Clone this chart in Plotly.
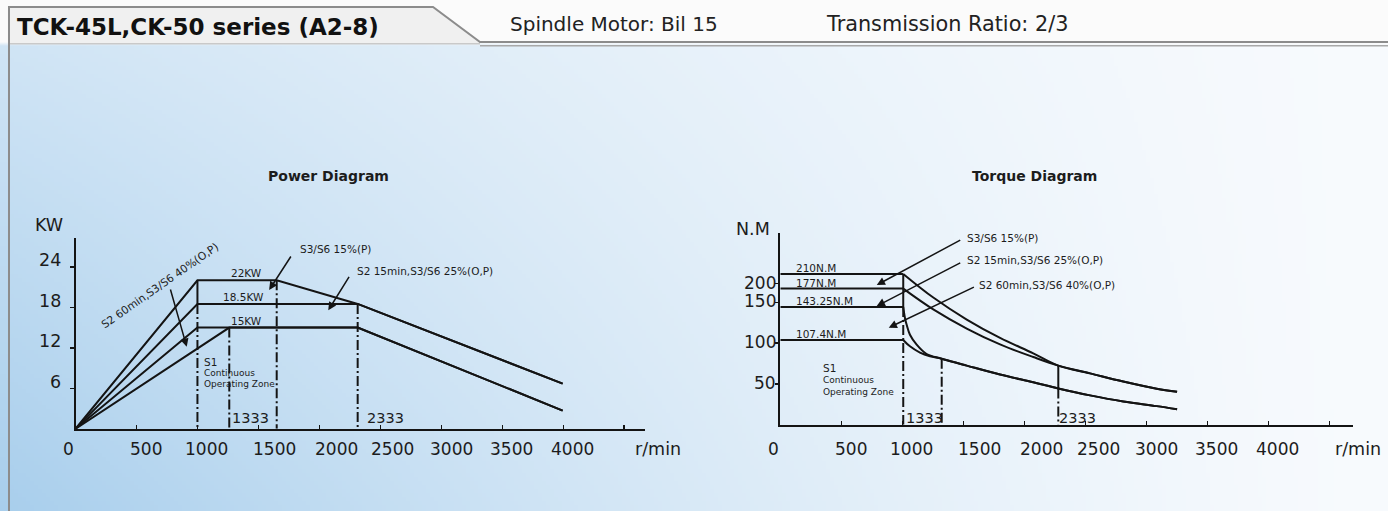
import base64, struct, zlib
import numpy as np
import plotly.graph_objects as go

W, H = 1388, 511

# ---------------- data ----------------
x_tick_vals = [0, 500, 1000, 1500, 2000, 2500, 3000, 3500, 4000, 4500]
x_tick_labels = ["0", "500", "1000", "1500", "2000", "2500", "3000", "3500", "4000"]

p_y_ticks = [6, 12, 18, 24]
p_y_labels = ["6", "12", "18", "24"]

# power curves (rpm, kW)
p_s3_15_rpm = [0, 1000, 1650, 2314, 3995]
p_s3_15_kw = [0, 22, 22, 18.5, 6.7]
p_s2_15_rpm = [0, 1000, 2314, 3995]
p_s2_15_kw = [0, 18.5, 18.5, 6.7]
p_s2_60_rpm = [0, 1000, 2314, 3995]
p_s2_60_kw = [0, 15, 15, 2.7]
p_s1_rpm = [0, 1261, 2314, 3995]
p_s1_kw = [0, 15, 15, 2.7]
# drop lines: (rpm, top, bottom)
p_solid_drop_rpm = [1000]
p_solid_drop_top = [22]
p_solid_drop_bot = [18.5]
p_dash_drop_rpm = [1000, 1261, 1650, 2314]
p_dash_drop_top = [18.5, 15, 22, 18.5]

t_y_ticks = [50, 100, 150, 173]
t_y_labels = ["50", "100", "150", "200"]

# torque curves (rpm, N.M as drawn)
t_s3_15_rpm = [0, 1007, 1253, 1527, 1800, 2072, 2277, 2537, 2809, 3083, 3250]
t_s3_15_nm = [185, 185, 156, 129, 106.5, 87.5, 72.5, 63, 53, 44.2, 40.5]
t_s2_15_rpm = [0, 1007, 1253, 1527, 1800, 2072, 2277, 2537, 2809, 3083, 3250]
t_s2_15_nm = [167, 167, 141.5, 118, 98.5, 83, 72.5, 63, 53, 44.2, 40.5]
t_s2_60_rpm = [0, 1007, 1021, 1035, 1062, 1117, 1199, 1322, 1527, 1800, 2072, 2277, 2537, 2809, 3083, 3250]
t_s2_60_nm = [144.5, 144.5, 131, 122.7, 110.4, 98.2, 86.7, 81, 72.5, 61.5, 52, 44.5, 36, 28.5, 22.8, 19]
t_s1_rpm = [0, 1007, 1062, 1144, 1226, 1322, 1527, 1800, 2072, 2277, 2537, 2809, 3083, 3250]
t_s1_nm = [104, 104, 96.2, 88.5, 84, 81, 72.5, 61.5, 52, 44.5, 36, 28.5, 22.8, 19]
t_solid_drop_rpm = [1007, 2277]
t_solid_drop_top = [185, 72.5]
t_solid_drop_bot = [144.5, 44.5]
t_dash_drop_rpm = [1007, 1322, 2277]
t_dash_drop_top = [144.5, 81, 44.5]

INK = "#141414"
FONT = "DejaVu Sans"
DASHDOT = "10px,3px,2px,3px"


def fx(px):
    return px / W


def fy(py):
    return 1 - py / H


# ---------------- background gradient image ----------------
gw, gh = 347, 128
xs = (np.arange(gw) + 0.5) / gw
ys = (np.arange(gh) + 0.5) / gh * H
U, Y = np.meshgrid(xs, ys)
vv = np.clip((Y - 45) / (H - 45), 0, 1)
t = np.clip(1 - U / 0.98, 0, 1) ** 1.3 * (0.5 + 0.5 * vv)
blue = np.array([168, 206, 236], dtype=float)
white = np.array([247, 250, 253], dtype=float)
img = white * (1 - t[..., None]) + blue * t[..., None]
img[Y < 44] = [251, 251, 251]
img = np.clip(img.round(), 0, 255).astype(np.uint8)
raw = b"".join(b"\x00" + img[r].tobytes() for r in range(gh))


def _chunk(tag, data):
    c = struct.pack(">I", len(data)) + tag + data
    return c + struct.pack(">I", zlib.crc32(tag + data) & 0xFFFFFFFF)


png = (b"\x89PNG\r\n\x1a\n" + _chunk(b"IHDR", struct.pack(">IIBBBBB", gw, gh, 8, 2, 0, 0, 0))
       + _chunk(b"IDAT", zlib.compress(raw, 9)) + _chunk(b"IEND", b""))
bg_uri = "data:image/png;base64," + base64.b64encode(png).decode()

fig = go.Figure()


def line(x, y, xa, ya, dash="solid", shape="linear", width=2):
    fig.add_trace(go.Scatter(x=x, y=y, mode="lines", xaxis=xa, yaxis=ya,
                             line=dict(color=INK, width=width, dash=dash, shape=shape,
                                       smoothing=1.0),
                             hoverinfo="skip", showlegend=False))


# power
for rx, ry in [(p_s3_15_rpm, p_s3_15_kw), (p_s2_15_rpm, p_s2_15_kw),
               (p_s2_60_rpm, p_s2_60_kw), (p_s1_rpm, p_s1_kw)]:
    line(rx, ry, "x", "y")
for r, a, b in zip(p_solid_drop_rpm, p_solid_drop_top, p_solid_drop_bot):
    line([r, r], [a, b], "x", "y")
for r, a in zip(p_dash_drop_rpm, p_dash_drop_top):
    line([r, r], [a, 0], "x", "y", dash=DASHDOT)

# torque: flat part linear, curve part spline
for rx, ry in [(t_s3_15_rpm, t_s3_15_nm), (t_s2_15_rpm, t_s2_15_nm),
               (t_s2_60_rpm, t_s2_60_nm), (t_s1_rpm, t_s1_nm)]:
    line(rx[:2], ry[:2], "x2", "y2")
    line(rx[1:], ry[1:], "x2", "y2", shape="spline")
for r, a, b in zip(t_solid_drop_rpm, t_solid_drop_top, t_solid_drop_bot):
    line([r, r], [a, b], "x2", "y2")
for r, a in zip(t_dash_drop_rpm, t_dash_drop_top):
    line([r, r], [a, 0], "x2", "y2", dash=DASHDOT)

# ---------------- axes ----------------
p_sx, p_x0 = 0.12194, 75.5
p_sy, p_y0 = 6.75, 428.8
t_sx, t_x0 = 0.12209, 780.3
t_sy, t_y0 = 0.815, 424.7

axis_common = dict(showgrid=False, zeroline=False, showline=True, linecolor=INK,
                   linewidth=2, tickcolor=INK, tickwidth=1.5, showticklabels=False,
                   fixedrange=True)

fig.update_layout(
    xaxis=dict(domain=[fx(p_x0), fx(645)], range=[0, (645 - p_x0) / p_sx], anchor="y",
               tickvals=x_tick_vals, ticks="inside", ticklen=4, **axis_common),
    yaxis=dict(domain=[fy(p_y0), fy(237.7)], range=[0, (p_y0 - 237.7) / p_sy], anchor="x",
               tickvals=p_y_ticks, ticks="outside", ticklen=4, **axis_common),
    xaxis2=dict(domain=[fx(t_x0), fx(1352.5)], range=[0, (1352.5 - t_x0) / t_sx], anchor="y2",
                tickvals=x_tick_vals, ticks="inside", ticklen=4, **axis_common),
    yaxis2=dict(domain=[fy(t_y0), fy(233)], range=[0, (t_y0 - 233) / t_sy], anchor="x2",
                tickvals=t_y_ticks, ticks="outside", ticklen=3, **axis_common),
)

ann = []


def text(s, x, y, size, xref="paper", yref="paper", xanchor="center", yanchor="middle",
         bold=False, family=FONT, xshift=0, yshift=0, angle=0, color="#1c1c1c"):
    ann.append(dict(text=("<b>%s</b>" % s) if bold else s, x=x, y=y, xref=xref, yref=yref,
                    xanchor=xanchor, yanchor=yanchor, showarrow=False, xshift=xshift,
                    yshift=yshift, textangle=angle,
                    font=dict(family=family, size=size, color=color)))


def arrow(x, y, ax, ay, xref, yref):
    ann.append(dict(text="", x=x, y=y, xref=xref, yref=yref, ax=ax, ay=ay, showarrow=True,
                    arrowhead=2, arrowsize=1.1, arrowwidth=1.5, arrowcolor=INK))


# tick labels
label_offsets = [-7, 9.5, 9, 16.5, 17.5, 12.5, 10, 9, 9]
for v, s, o in zip(x_tick_vals, x_tick_labels, label_offsets):
    text(s, v, fy(449), 17, xref="x", xshift=o)
    text(s, v, fy(449), 17, xref="x2", xshift=o)
text("r/min", fx(658), fy(449), 17.5)
text("r/min", fx(1358), fy(449), 17.5)
for v, s in zip(p_y_ticks, p_y_labels):
    text(s, fx(63), v, 17.5, yref="y", xanchor="right", yshift=6.7)
for v, s in zip(t_y_ticks, t_y_labels):
    text(s, fx(777.5), v, 17, yref="y2", xanchor="right", yshift=1)
text("KW", fx(49), fy(225), 17.5)
text("N.M", fx(753), fy(229), 17.5)

# titles
text("Power Diagram", fx(328), fy(176), 14, bold=True)
text("Torque Diagram", fx(1034), fy(176), 14, bold=True)

# power annotations
for lab, r, v in [("22KW", 1400, 22), ("18.5KW", 1374, 18.5), ("15KW", 1404, 15)]:
    text(lab, r, v, 10.5, xref="x", yref="y", yanchor="bottom", yshift=-1)
text("S1", 1040, 9.94, 10.5, xref="x", yref="y", xanchor="left")
text("Continuous", 1040, 8.27, 9, xref="x", yref="y", xanchor="left")
text("Operating Zone", 1040, 6.68, 9, xref="x", yref="y", xanchor="left")
text("1333", 1270, 1.6, 14.5, xref="x", yref="y", xanchor="left")
text("2333", 2370, 1.6, 14.5, xref="x", yref="y", xanchor="left")
text("S2 60min,S3/S6 40%(O,P)", 697, 21.2, 10.8, xref="x", yref="y", angle=-35)
text("S3/S6 15%(P)", 1822, 26.6, 10.5, xref="x", yref="y", xanchor="left")
text("S2 15min,S3/S6 25%(O,P)", 2294, 23.4, 10.5, xref="x", yref="y", xanchor="left")
arrow(912, 12.16, -16.7, -58.7, "x", "y")
arrow(1588, 20.56, 22.7, -35, "x", "y")
arrow(2073, 17.55, 21.7, -35, "x", "y")

# torque annotations
for lab, v in [("210N.M", 185), ("177N.M", 167), ("143.25N.M", 144.5), ("107.4N.M", 104)]:
    text(lab, 110, v, 10.5, xref="x2", yref="y2", xanchor="left", yanchor="bottom", yshift=-2)
text("S1", 330, 69.1, 10.5, xref="x2", yref="y2", xanchor="left")
text("Continuous", 330, 54.8, 9, xref="x2", yref="y2", xanchor="left")
text("Operating Zone", 330, 39.8, 9, xref="x2", yref="y2", xanchor="left")
text("1333", 1010, 8.8, 14.5, xref="x2", yref="y2", xanchor="left")
text("2333", 2266, 8.8, 14.5, xref="x2", yref="y2", xanchor="left")
text("S3/S6 15%(P)", 1515, 229.4, 10.5, xref="x2", yref="y2", xanchor="left")
text("S2 15min,S3/S6 25%(O,P)", 1515, 202, 10.5, xref="x2", yref="y2", xanchor="left")
text("S2 60min,S3/S6 40%(O,P)", 1610, 171.4, 10.5, xref="x2", yref="y2", xanchor="left")
arrow(790, 171.4, 85, -45.7, "x2", "y2")
arrow(790, 145.6, 85, -44, "x2", "y2")
arrow(888, 119, 86.7, -41.3, "x2", "y2")

# header texts
text("TCK-45L,CK-50 series (A2-8)", fx(15), fy(27), 23, xanchor="left", bold=True, color="#111")
text("Spindle Motor: Bil 15", fx(508), fy(23.5), 20, xanchor="left", color="#222")
text("Transmission Ratio: 2/3", fx(824), fy(23.5), 20.8, xanchor="left", color="#222")


def path(pts, close=False):
    s = "M " + " L ".join("%.5f,%.5f" % (fx(a), fy(b)) for a, b in pts)
    return s + (" Z" if close else "")


shapes = [
    dict(type="path", xref="paper", yref="paper", layer="above",
         path=path([(9, 7), (433, 7), (480, 43), (9, 43)], close=True),
         fillcolor="#f0f0f0", line=dict(width=0)),
    dict(type="path", xref="paper", yref="paper", layer="above",
         path=path([(9, 43.8), (480, 43.8)]), line=dict(color="#c9c9c9", width=1.5)),
    dict(type="path", xref="paper", yref="paper", layer="above",
         path=path([(480, 45.8), (W, 45.8)]), line=dict(color="#a8a8a8", width=1.5)),
    dict(type="path", xref="paper", yref="paper", layer="above",
         path=path([(9, H), (9, 7), (433, 7), (480, 42), (W, 42)]),
         line=dict(color="#8c8c8c", width=2)),
]

fig.update_layout(
    width=W, height=H, autosize=False,
    margin=dict(l=0, r=0, t=0, b=0, pad=0),
    paper_bgcolor="white", plot_bgcolor="rgba(0,0,0,0)",
    showlegend=False, annotations=ann, shapes=shapes,
    images=[dict(source=bg_uri, xref="paper", yref="paper", x=0, y=1, sizex=1, sizey=1,
                 xanchor="left", yanchor="top", sizing="stretch", layer="below")],
    font=dict(family=FONT, color="#1c1c1c"),
)

fig.write_html("out.html", config=dict(displayModeBar=False, staticPlot=True),
               post_script="document.body.style.margin='0px';document.body.style.overflow='hidden';")
